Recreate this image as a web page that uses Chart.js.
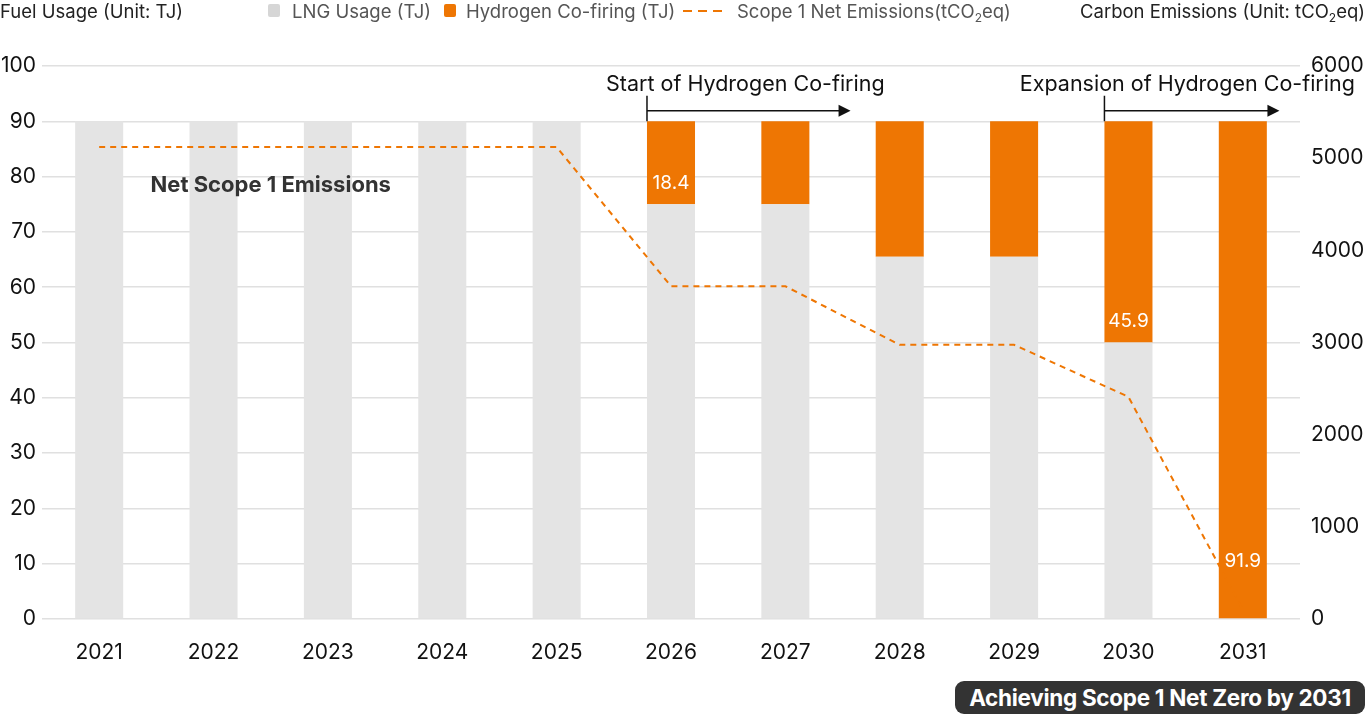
<!DOCTYPE html>
<html>
<head>
<meta charset="utf-8">
<script src="https://cdn.jsdelivr.net/npm/chart.js@4"></script>
<style>
  html, body { margin: 0; padding: 0; background: #fff; }
  body { width: 1367px; height: 716px; position: relative; overflow: hidden; font-family: Inter, "Noto Sans", sans-serif; }
  #chart { position: absolute; left: 0; top: 0; }
  .hdr { position: absolute; top: 0; line-height: 22px; font-size: 18.5px; white-space: nowrap; }
  .axis-title { color: #222; }
  .leg { color: #555; }
  .sw { position: absolute; top: 4px; width: 12px; height: 13px; border-radius: 2px; }
  sub { font-size: 12px; line-height: 0; vertical-align: -4px; }
  #badge { position: absolute; left: 955px; top: 681px; width: 410px; height: 33px; background: #333; border-radius: 9px;
           color: #fff; font-weight: 700; font-size: 22.5px; line-height: 33px; text-align: center; letter-spacing: -0.3px; }
</style>
</head>
<body>
<canvas id="chart" width="1367" height="716"></canvas>

<div class="hdr axis-title" style="left:0">Fuel Usage (Unit: TJ)</div>
<div class="sw" style="left:268px;background:#d6d6d6"></div>
<div class="hdr leg" style="left:292px">LNG Usage (TJ)</div>
<div class="sw" style="left:444px;background:#ee7603"></div>
<div class="hdr leg" style="left:466px">Hydrogen Co-firing (TJ)</div>
<svg style="position:absolute;left:683px;top:9px" width="40" height="4"><line x1="0" y1="2" x2="40" y2="2" stroke="#ee7603" stroke-width="2" stroke-dasharray="9,6"/></svg>
<div class="hdr leg" style="left:737px">Scope 1 Net Emissions(tCO<sub>2</sub>eq)</div>
<div class="hdr axis-title" style="right:2px">Carbon Emissions (Unit: tCO<sub>2</sub>eq)</div>
<div id="badge">Achieving Scope 1 Net Zero by 2031</div>

<script>
const years = ['2021', '2022', '2023', '2024', '2025', '2026', '2027', '2028', '2029', '2030', '2031'];
const lngUsage = [90, 90, 90, 90, 90, 75, 75, 65.5, 65.5, 50, 0];
const hydrogenCofiring = [0, 0, 0, 0, 0, 15, 15, 24.5, 24.5, 40, 90];
const netEmissions = [5120, 5120, 5120, 5120, 5120, 3610, 3610, 2975, 2975, 2410, 100];
const hydrogenLabels = [null, null, null, null, null, '18.4', null, null, null, '45.9', '91.9'];
const fuelTicks = [0, 10, 20, 30, 40, 50, 60, 70, 80, 90, 100];
const emissionTicks = [0, 1000, 2000, 3000, 4000, 5000, 6000];

const ORANGE = '#ee7603';
const FONT = 'Inter, "Noto Sans", sans-serif';

// arrow with a start tick, drawn from scale positions
function drawArrow(ctx, x0, x1, y, yTop, yBot) {
  ctx.save();
  ctx.strokeStyle = '#111';
  ctx.fillStyle = '#111';
  ctx.lineWidth = 1.5;
  ctx.beginPath();
  ctx.moveTo(x0, yTop);
  ctx.lineTo(x0, yBot);
  ctx.moveTo(x0, y);
  ctx.lineTo(x1 - 10, y);
  ctx.stroke();
  ctx.beginPath();
  ctx.moveTo(x1, y);
  ctx.lineTo(x1 - 12, y - 6);
  ctx.lineTo(x1 - 12, y + 6);
  ctx.closePath();
  ctx.fill();
  ctx.restore();
}

const annotations = {
  id: 'annotations',
  afterDatasetsDraw(chart) {
    const { ctx, scales: { x, y } } = chart;
    const hMeta = chart.getDatasetMeta(1);
    const half = hMeta.data[0].width / 2;

    ctx.save();
    ctx.textAlign = 'center';
    ctx.textBaseline = 'middle';

    // value labels inside the hydrogen bars
    ctx.fillStyle = '#fff';
    ctx.font = '19px ' + FONT;
    hydrogenLabels.forEach((lab, i) => {
      if (!lab) return;
      const bar = hMeta.data[i];
      const base = bar.base;
      const ly = base >= chart.chartArea.bottom - 1 ? base - 57 : base - 21;
      ctx.fillText(lab, bar.x, ly);
    });

    ctx.fillStyle = '#333';
    ctx.font = 'bold 22px ' + FONT;
    ctx.fillText('Net Scope 1 Emissions', x.getPixelForValue(1.5), y.getPixelForValue(78.5));

    ctx.fillStyle = '#111';
    ctx.font = '21.5px ' + FONT;
    ctx.fillText('Start of Hydrogen Co-firing', x.getPixelForValue(5.65), y.getPixelForValue(96.7));
    ctx.fillText('Expansion of Hydrogen Co-firing', x.getPixelForValue(9.515), y.getPixelForValue(96.7));
    ctx.restore();

    drawArrow(ctx, x.getPixelForValue(5) - half, x.getPixelForValue(6.57),
      y.getPixelForValue(91.9), y.getPixelForValue(94.6), y.getPixelForValue(90));
    drawArrow(ctx, x.getPixelForValue(9) - half, x.getPixelForValue(10.32),
      y.getPixelForValue(91.9), y.getPixelForValue(94.6), y.getPixelForValue(90));
  }
};

new Chart(document.getElementById('chart'), {
  type: 'bar',
  data: {
    labels: years,
    datasets: [
      {
        label: 'LNG Usage (TJ)',
        data: lngUsage,
        backgroundColor: '#e4e4e4',
        yAxisID: 'y',
        order: 1,
      },
      {
        label: 'Hydrogen Co-firing (TJ)',
        data: hydrogenCofiring,
        backgroundColor: ORANGE,
        yAxisID: 'y',
        order: 1,
      },
      {
        type: 'line',
        label: 'Scope 1 Net Emissions(tCO2eq)',
        data: netEmissions,
        borderColor: ORANGE,
        borderWidth: 2,
        borderDash: [6, 5],
        pointRadius: 0,
        tension: 0,
        fill: false,
        yAxisID: 'y2',
        order: 0,
      },
    ],
  },
  options: {
    responsive: false,
    animation: false,
    barPercentage: 0.42,
    categoryPercentage: 1,
    layout: { padding: { top: 66, left: 0, right: 0, bottom: 0 } },
    plugins: {
      legend: { display: false },
      tooltip: { enabled: false },
    },
    scales: {
      x: {
        stacked: true,
        grid: { display: false },
        border: { display: false },
        ticks: { color: '#111', font: { family: FONT, size: 21 }, padding: 13 },
        afterFit(scale) { scale.height = 97; },
      },
      y: {
        stacked: true,
        position: 'left',
        min: 0,
        max: 100,
        afterBuildTicks(scale) { scale.ticks = fuelTicks.map(v => ({ value: v })); },
        grid: { color: '#e0e0e0', lineWidth: 1.5, drawTicks: false },
        border: { display: false },
        ticks: { color: '#111', font: { family: FONT, size: 21 }, padding: 6 },
        afterFit(scale) { scale.width = 42; },
      },
      y2: {
        position: 'right',
        min: 0,
        max: 6000,
        afterBuildTicks(scale) { scale.ticks = emissionTicks.map(v => ({ value: v })); },
        grid: { display: false, drawTicks: false },
        border: { display: false },
        ticks: { color: '#111', font: { family: FONT, size: 21 }, padding: 11, callback: v => String(v) },
        afterFit(scale) { scale.width = 67; },
      },
    },
  },
  plugins: [annotations],
});
</script>
</body>
</html>
